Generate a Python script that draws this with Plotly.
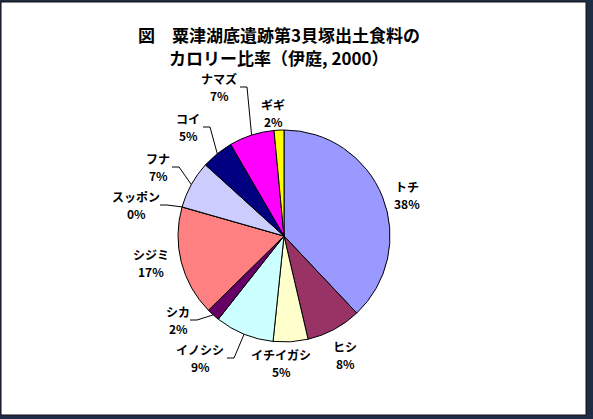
import math
import plotly.graph_objects as go

# ---- data ----
labels = ["トチ", "ヒシ", "イチイガシ", "イノシシ", "シカ", "シジミ", "スッポン", "フナ", "コイ", "ナマズ", "ギギ"]
values = [38.0, 8.4, 5.3, 9.0, 2.0, 16.8, 0.0, 7.3, 4.9, 6.9, 1.5]
pct_text = ["38%", "8%", "5%", "9%", "2%", "17%", "0%", "7%", "5%", "7%", "2%"]
title_lines = ["図　粟津湖底遺跡第3貝塚出土食料の", "カロリー比率（伊庭, 2000）"]

# ---- styles / layout ----
colors = ["#9999FF", "#993366", "#FFFFCC", "#CCFFFF", "#660066", "#FF8080",
          "#FFFFFF", "#CCCCFF", "#000080", "#FF00FF", "#FFFF00"]
W, H = 593, 419
CX, CY, R = 284, 236, 106
# label block centres (px) and leader stub start x (px, or None)
label_pos = [(407, 195), (345, 355), (281, 363), (200, 358), (178, 320), (151, 263),
             (136, 205), (158, 167), (188, 127), (219, 87), (273, 113)]
leader_x0 = [None, None, None, 227, 190, None, 160, 172, 203, 240, None]
title_y = [35, 58]
FONT = "Noto Sans CJK JP"


def px(x):
    return x / W


def py(y):
    return 1 - y / H


fig = go.Figure(go.Pie(
    labels=labels, values=values, sort=False, direction="clockwise", rotation=0,
    marker=dict(colors=colors, line=dict(color="#000000", width=1)),
    textinfo="none", hoverinfo="label+percent", showlegend=False,
    domain=dict(x=[px(CX - R), px(CX + R)], y=[py(CY + R), py(CY - R)]),
))

shapes = [dict(type="rect", xref="paper", yref="paper", x0=px(1), x1=px(586), y0=py(415), y1=py(2),
               fillcolor="#FFFFFF", line=dict(color="#111111", width=1), layer="below")]
annotations = []
total = sum(values)
cum = 0.0
for i, lab in enumerate(labels):
    mid = (cum + values[i] / 2) / total * 2 * math.pi
    cum += values[i]
    lx, ly = label_pos[i]
    for txt, dy in ((lab, -8.5), (pct_text[i], 8.5)):
        annotations.append(dict(x=px(lx), y=py(ly + dy), xref="paper", yref="paper", text=txt,
                                showarrow=False, xanchor="center", yanchor="middle", borderpad=0,
                                font=dict(family=FONT, size=12, color="#000000", weight="bold")))
    if leader_x0[i] is not None:
        ex = CX + R * math.sin(mid)
        ey = CY - R * math.cos(mid)
        x0 = leader_x0[i]
        x1 = x0 + 7
        path = f"M {px(x0)} {py(ly)} L {px(x1)} {py(ly)} L {px(ex)} {py(ey)}"
        shapes.append(dict(type="path", xref="paper", yref="paper", path=path,
                           line=dict(color="#000000", width=1)))

for txt, yy in zip(title_lines, title_y):
    annotations.append(dict(x=px(279), y=py(yy), xref="paper", yref="paper", text=txt,
                            showarrow=False, xanchor="center", yanchor="middle", borderpad=0,
                            font=dict(family=FONT, size=17, color="#000000", weight="bold")))

fig.update_layout(width=W, height=H, margin=dict(l=0, r=0, t=0, b=0),
                  paper_bgcolor="#1E2D45", plot_bgcolor="#FFFFFF",
                  shapes=shapes, annotations=annotations)
fig.write_html("out.html", config={"displayModeBar": False},
               post_script="document.body.style.margin='0';document.body.style.overflow='hidden';")
